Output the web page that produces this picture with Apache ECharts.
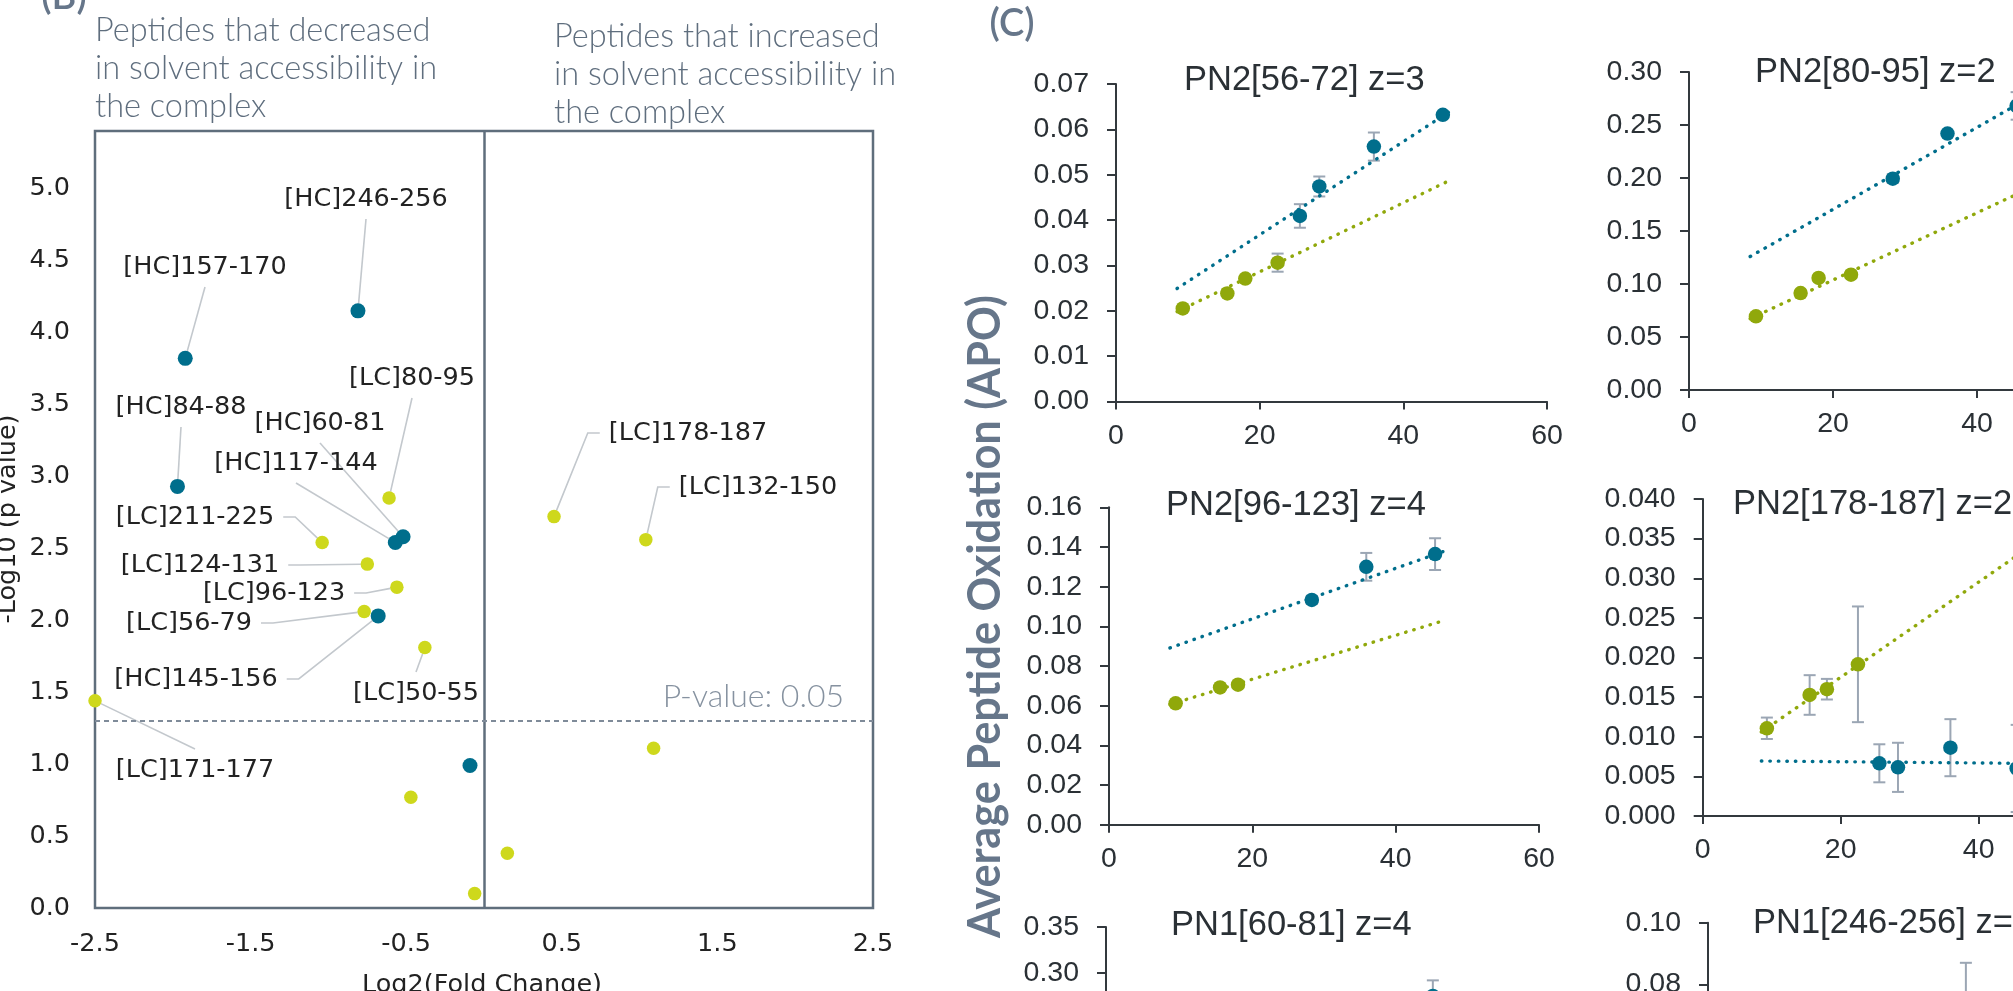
<!DOCTYPE html>
<html>
<head>
<meta charset="utf-8">
<script src="https://cdn.jsdelivr.net/npm/echarts@6.0.0/dist/echarts.min.js"></script>
<style>
  * { margin: 0; padding: 0; }
  html, body { width: 2013px; height: 991px; overflow: hidden; background: #fff; }
  #main { width: 2013px; height: 991px; }
</style>
</head>
<body>
<div id="main"></div>
<script>
// ---------- (B) volcano plot ----------
var hcNames = ['[HC]246-256', '[HC]157-170', '[HC]84-88', '[HC]60-81', '[HC]117-144', '[HC]145-156', ''];
var hcLog2FC = [-0.81, -1.92, -1.97, -0.52, -0.57, -0.68, -0.09];
var hcLogP = [4.15, 3.82, 2.93, 2.58, 2.54, 2.03, 0.99];

var lcNames = ['[LC]80-95', '[LC]211-225', '[LC]124-131', '[LC]96-123', '[LC]56-79', '[LC]50-55',
               '[LC]171-177', '[LC]178-187', '[LC]132-150', '', '', '', ''];
var lcLog2FC = [-0.61, -1.04, -0.75, -0.56, -0.77, -0.38, -2.50, 0.45, 1.04, 1.09, -0.47, 0.15, -0.06];
var lcLogP = [2.85, 2.54, 2.39, 2.23, 2.06, 1.81, 1.44, 2.72, 2.56, 1.11, 0.77, 0.38, 0.10];

var pThreshold = 0.05;

// where the peptide names sit (px) and which side their leader line leaves from
var hcLabelAt = [[366, 199], [205, 267], [181, 407], [320, 423], [296, 463], [196, 679]];
var hcLabelSide = ['bottom', 'bottom', 'bottom', 'bottom', 'bottom', 'right'];
var lcLabelAt = [[412, 378], [195, 517], [200, 565], [274, 593], [189, 623], [416, 693],
                 [195, 770], [688, 433], [758, 487]];
var lcLabelSide = ['bottom', 'right', 'right', 'right', 'right', 'top', 'top', 'left', 'left'];

// ---------- (C) dose-response panels ----------
var greenX = [9.3, 15.5, 18.0, 22.5];
var tealX = [25.6, 28.3, 35.9, 45.5];
var fitX = [8.5, 46.8];

var panelTitles = ['PN2[56-72] z=3', 'PN2[80-95] z=2', 'PN2[96-123] z=4',
                   'PN2[178-187] z=2', 'PN1[60-81] z=4', 'PN1[246-256] z=2'];
var panelYMax = [0.07, 0.30, 0.16, 0.040, 0.35, 0.10];
var panelYStep = [0.01, 0.05, 0.02, 0.005, 0.05, 0.02];
var panelYDigits = [2, 2, 2, 3, 2, 2];

var p1Green = [0.0205, 0.0238, 0.0271, 0.0306];
var p1GreenErr = [0, 0, 0, 0.0020];
var p1Teal = [0.0409, 0.0474, 0.0562, 0.0632];
var p1TealErr = [0.0026, 0.0022, 0.0031, 0];
var p1GreenFit = [0.0198, 0.0490];
var p1TealFit = [0.0249, 0.0643];

var p2Green = [0.0695, 0.0915, 0.1057, 0.1088];
var p2GreenErr = [0, 0, 0, 0.003];
var p2Teal = [null, 0.1994, 0.2419, 0.268];
var p2TealErr = [0, 0.004, 0, 0.013];
var p2GreenFit = [0.0673, 0.1887];
var p2TealFit = [0.1259, 0.274];

var p3Green = [0.0612, 0.0692, 0.0706, null];
var p3GreenErr = [0, 0, 0, 0];
var p3Teal = [null, 0.1133, 0.130, 0.1364];
var p3TealErr = [0, 0.002, 0.007, 0.008];
var p3GreenFit = [0.0606, 0.1030];
var p3TealFit = [0.0891, 0.1379];

var p4Green = [0.01107, 0.01527, 0.0160, 0.01914];
var p4GreenErr = [0.00135, 0.0025, 0.0013, 0.0073];
var p4Teal = [0.00665, 0.00614, 0.00862, 0.0060];
var p4TealErr = [0.0024, 0.0031, 0.0036, 0.0055];
var p4GreenFit = [0.0106, 0.0336];
var p4TealFit = [0.00694, 0.00664];

var p5Green = [null, null, null, null];
var p5GreenErr = [0, 0, 0, 0];
var p5Teal = [null, null, null, 0.275];
var p5TealErr = [0, 0, 0, 0.017];

var p6Green = [null, null, null, null];
var p6GreenErr = [0, 0, 0, 0];
var p6Teal = [null, null, 0.072, null];
var p6TealErr = [0, 0, 0.015, 0];

var greenLists = [p1Green, p2Green, p3Green, p4Green, p5Green, p6Green];
var greenErrLists = [p1GreenErr, p2GreenErr, p3GreenErr, p4GreenErr, p5GreenErr, p6GreenErr];
var tealLists = [p1Teal, p2Teal, p3Teal, p4Teal, p5Teal, p6Teal];
var tealErrLists = [p1TealErr, p2TealErr, p3TealErr, p4TealErr, p5TealErr, p6TealErr];
var greenFits = [p1GreenFit, p2GreenFit, p3GreenFit, p4GreenFit, null, null];
var tealFits = [p1TealFit, p2TealFit, p3TealFit, p4TealFit, null, null];

// layout: [left, top, width, height] of each panel's plot area
var panelBox = [
  [1116, 84, 431, 317.4],
  [1689, 72, 432, 318],
  [1109, 507.3, 430, 317.4],
  [1702.7, 499, 414, 317],
  [1106, 927, 431, 322],
  [1708, 922.7, 431, 308.5]
];
var panelTitleAt = [[1184, 80], [1755, 72], [1166, 505], [1733, 504], [1171, 925], [1753, 923]];

var tealColor = '#006e8c';
var greenColor = '#90a80b';
var yellowColor = '#ced81c';
var errColor = '#9ba6b4';
var axisColor = '#33393e';
var textColor = '#2a3035';
var slate = '#66768a';
var sans = 'Liberation Sans';
var wide = 'DejaVu Sans';
var labelSize = 25.5;

var chart = echarts.init(document.getElementById('main'));

var measureCtx = document.createElement('canvas').getContext('2d');
function textWidth(text, font) {
  measureCtx.font = font;
  return measureCtx.measureText(text).width;
}

function volcanoData(names, xs, ys) {
  return xs.map(function (x, i) {
    return { name: names[i], value: [x, ys[i]], label: { show: !!names[i] } };
  });
}

function labelPlacer(positions) {
  return function (params) {
    var p = positions[params.dataIndex];
    if (!p) return {};
    return { x: p[0], y: p[1], align: 'center', verticalAlign: 'middle' };
  };
}

function errorBar(params, api) {
  var x = api.value(0), v = api.value(1), e = api.value(2);
  var top = api.coord([x, v + e]);
  var bot = api.coord([x, v - e]);
  var hw = 6;
  var st = { stroke: errColor, lineWidth: 2 };
  return {
    type: 'group',
    children: [
      { type: 'line', shape: { x1: top[0], y1: top[1], x2: bot[0], y2: bot[1] }, style: st },
      { type: 'line', shape: { x1: top[0] - hw, y1: top[1], x2: top[0] + hw, y2: top[1] }, style: st },
      { type: 'line', shape: { x1: bot[0] - hw, y1: bot[1], x2: bot[0] + hw, y2: bot[1] }, style: st }
    ]
  };
}

var grids = [{
  left: 95, top: 131, width: 778, height: 777,
  show: true, borderColor: '#5f6e7c', borderWidth: 2.5, backgroundColor: 'transparent',
  containLabel: false, outerBoundsMode: 'none'
}];
var xAxes = [{
  type: 'value', gridIndex: 0, min: -2.5, max: 2.5, interval: 1,
  axisLine: { show: false }, axisTick: { show: false }, splitLine: { show: false },
  axisLabel: { margin: 23, fontSize: labelSize, color: '#222', fontFamily: wide,
    formatter: function (v) { return v.toFixed(1); } }
}];
var yAxes = [{
  type: 'value', gridIndex: 0, min: 0, max: 5.4, interval: 0.5,
  axisLine: { show: false }, axisTick: { show: false }, splitLine: { show: false },
  axisLabel: { margin: 25, fontSize: labelSize, color: '#222', fontFamily: wide, showMaxLabel: false,
    formatter: function (v) { return v > 5.01 ? '' : v.toFixed(1); } }
}];

var volcanoLabel = { show: true, formatter: '{b}', fontSize: labelSize, color: '#222', fontFamily: wide };

var series = [
  {
    type: 'scatter', xAxisIndex: 0, yAxisIndex: 0, symbolSize: 15, z: 3,
    itemStyle: { color: tealColor, opacity: 1 },
    label: volcanoLabel, labelLayout: labelPlacer(hcLabelAt),
    data: volcanoData(hcNames, hcLog2FC, hcLogP),
    markLine: {
      silent: true, symbol: ['none', 'none'], label: { show: false }, animation: false,
      data: [
        { xAxis: 0, lineStyle: { color: '#5f6e7c', width: 2.5, type: 'solid' } },
        { yAxis: -Math.log10(pThreshold), lineStyle: { color: '#7f8b99', width: 2, type: [5, 4] } }
      ]
    }
  },
  {
    type: 'scatter', xAxisIndex: 0, yAxisIndex: 0, symbolSize: 13.5, z: 3,
    itemStyle: { color: yellowColor, opacity: 1 },
    label: volcanoLabel, labelLayout: labelPlacer(lcLabelAt),
    data: volcanoData(lcNames, lcLog2FC, lcLogP)
  }
];

var bigTitle = 'Average Peptide Oxidation (APO)';
var bigFont = 'bold 46px Lato';
var bigScale = 643 / textWidth(bigTitle, bigFont);

var graphics = [
  { type: 'text', x: 64, y: -3, style: { text: '(B)', font: '600 38px Lato', fill: slate, align: 'center', verticalAlign: 'middle' } },
  { type: 'text', x: 1012, y: 24, style: { text: '(C)', font: '600 38px Lato', fill: slate, align: 'center', verticalAlign: 'middle' } },
  { type: 'text', x: 95, y: 12, style: { text: 'Peptides that decreased\nin solvent accessibility in\nthe complex',
      font: '300 32.5px Lato', lineHeight: 38, fill: '#5f6e7e', align: 'left', verticalAlign: 'top' } },
  { type: 'text', x: 554, y: 18, style: { text: 'Peptides that increased\nin solvent accessibility in\nthe complex',
      font: '300 32.5px Lato', lineHeight: 38, fill: '#5f6e7e', align: 'left', verticalAlign: 'top' } },
  { type: 'text', x: 844, y: 697, style: { text: 'P-value: ' + pThreshold.toFixed(2),
      font: '300 32px Lato', fill: '#8692a0', align: 'right', verticalAlign: 'middle' } },
  { type: 'text', x: 8, y: 519, rotation: Math.PI / 2, style: { text: '-Log10 (p value)',
      font: labelSize + 'px "DejaVu Sans"', fill: '#222', align: 'center', verticalAlign: 'middle' } },
  { type: 'text', x: 482, y: 985, style: { text: 'Log2(Fold Change)',
      font: labelSize + 'px "DejaVu Sans"', fill: '#222', align: 'center', verticalAlign: 'middle' } },
  { type: 'text', x: 985, y: 938, rotation: Math.PI / 2, scaleX: bigScale, style: { text: bigTitle,
      font: bigFont, fill: slate, align: 'left', verticalAlign: 'middle' } }
];

panelTitles.forEach(function (title, k) {
  var g = k + 1;
  var box = panelBox[k];
  var digits = panelYDigits[k];
  grids.push({ left: box[0], top: box[1], width: box[2], height: box[3],
    containLabel: false, outerBoundsMode: 'none' });
  xAxes.push({
    type: 'value', gridIndex: g, min: 0, max: 60, interval: 20,
    axisLine: { show: true, onZero: false, lineStyle: { color: axisColor, width: 2 } },
    axisTick: { show: true, length: 8, lineStyle: { color: axisColor, width: 2 } },
    splitLine: { show: false },
    axisLabel: { margin: 20, fontSize: 28.5, color: textColor, fontFamily: sans }
  });
  yAxes.push({
    type: 'value', gridIndex: g, min: 0, max: panelYMax[k], interval: panelYStep[k],
    axisLine: { show: true, lineStyle: { color: axisColor, width: 2 } },
    axisTick: { show: true, length: 9, lineStyle: { color: axisColor, width: 2 } },
    splitLine: { show: false },
    axisLabel: { margin: 27, fontSize: 28.5, color: textColor, fontFamily: sans,
      formatter: function (v) { return v.toFixed(digits); } }
  });

  var errData = [];
  var greenPts = [], tealPts = [];
  greenLists[k].forEach(function (v, i) {
    if (v == null) return;
    greenPts.push([greenX[i], v]);
    if (greenErrLists[k][i] > 0) errData.push([greenX[i], v, greenErrLists[k][i]]);
  });
  tealLists[k].forEach(function (v, i) {
    if (v == null) return;
    tealPts.push([tealX[i], v]);
    if (tealErrLists[k][i] > 0) errData.push([tealX[i], v, tealErrLists[k][i]]);
  });

  series.push({
    type: 'custom', xAxisIndex: g, yAxisIndex: g, z: 1, silent: true,
    renderItem: errorBar, encode: { x: 0, y: 1 }, data: errData
  });
  [[greenFits[k], greenColor], [tealFits[k], tealColor]].forEach(function (f) {
    if (!f[0]) return;
    series.push({
      type: 'line', xAxisIndex: g, yAxisIndex: g, z: 2, symbol: 'none', silent: true,
      lineStyle: { color: f[1], width: 3.4, type: [0.5, 8], cap: 'round' },
      data: [[fitX[0], f[0][0]], [fitX[1], f[0][1]]]
    });
  });
  series.push({
    type: 'scatter', xAxisIndex: g, yAxisIndex: g, z: 3, symbolSize: 14.5, silent: true,
    itemStyle: { color: greenColor, opacity: 1 }, data: greenPts
  });
  series.push({
    type: 'scatter', xAxisIndex: g, yAxisIndex: g, z: 3, symbolSize: 14.5, silent: true,
    itemStyle: { color: tealColor, opacity: 1 }, data: tealPts
  });

  graphics.push({ type: 'text', x: panelTitleAt[k][0], y: panelTitleAt[k][1],
    style: { text: title, font: '34.5px "Liberation Sans"', fill: textColor, align: 'left', verticalAlign: 'middle' } });
});

var option = {
  animation: false,
  textStyle: { fontFamily: sans },
  grid: grids,
  xAxis: xAxes,
  yAxis: yAxes,
  series: series,
  graphic: { elements: graphics }
};
chart.setOption(option);

// leader lines from each name to its point, point position taken from the volcano axes
function leaderLines(names, xs, ys, positions, sides, radius) {
  var font = labelSize + 'px "DejaVu Sans"';
  var out = [];
  positions.forEach(function (p, i) {
    var pt = chart.convertToPixel({ gridIndex: 0 }, [xs[i], ys[i]]);
    var halfW = textWidth(names[i], font) / 2;
    var a, b;
    if (sides[i] === 'bottom') { a = [p[0], p[1] + 20]; b = a; }
    else if (sides[i] === 'top') { a = [p[0], p[1] - 21]; b = a; }
    else if (sides[i] === 'right') { a = [p[0] + halfW + 9, p[1]]; b = [a[0] + 12, a[1]]; }
    else { a = [p[0] - halfW - 9, p[1]]; b = [a[0] - 12, a[1]]; }
    var dx = b[0] - pt[0], dy = b[1] - pt[1];
    var d = Math.sqrt(dx * dx + dy * dy) || 1;
    var e = [pt[0] + dx / d * radius, pt[1] + dy / d * radius];
    out.push({
      type: 'polyline', z: 1, silent: true,
      shape: { points: [a, b, e] },
      style: { stroke: '#c3c8cd', lineWidth: 1.6, fill: null }
    });
  });
  return out;
}

option.graphic = { elements: graphics
  .concat(leaderLines(hcNames, hcLog2FC, hcLogP, hcLabelAt, hcLabelSide, 7))
  .concat(leaderLines(lcNames, lcLog2FC, lcLogP, lcLabelAt, lcLabelSide, 6.5)) };
chart.setOption(option);
</script>
</body>
</html>
